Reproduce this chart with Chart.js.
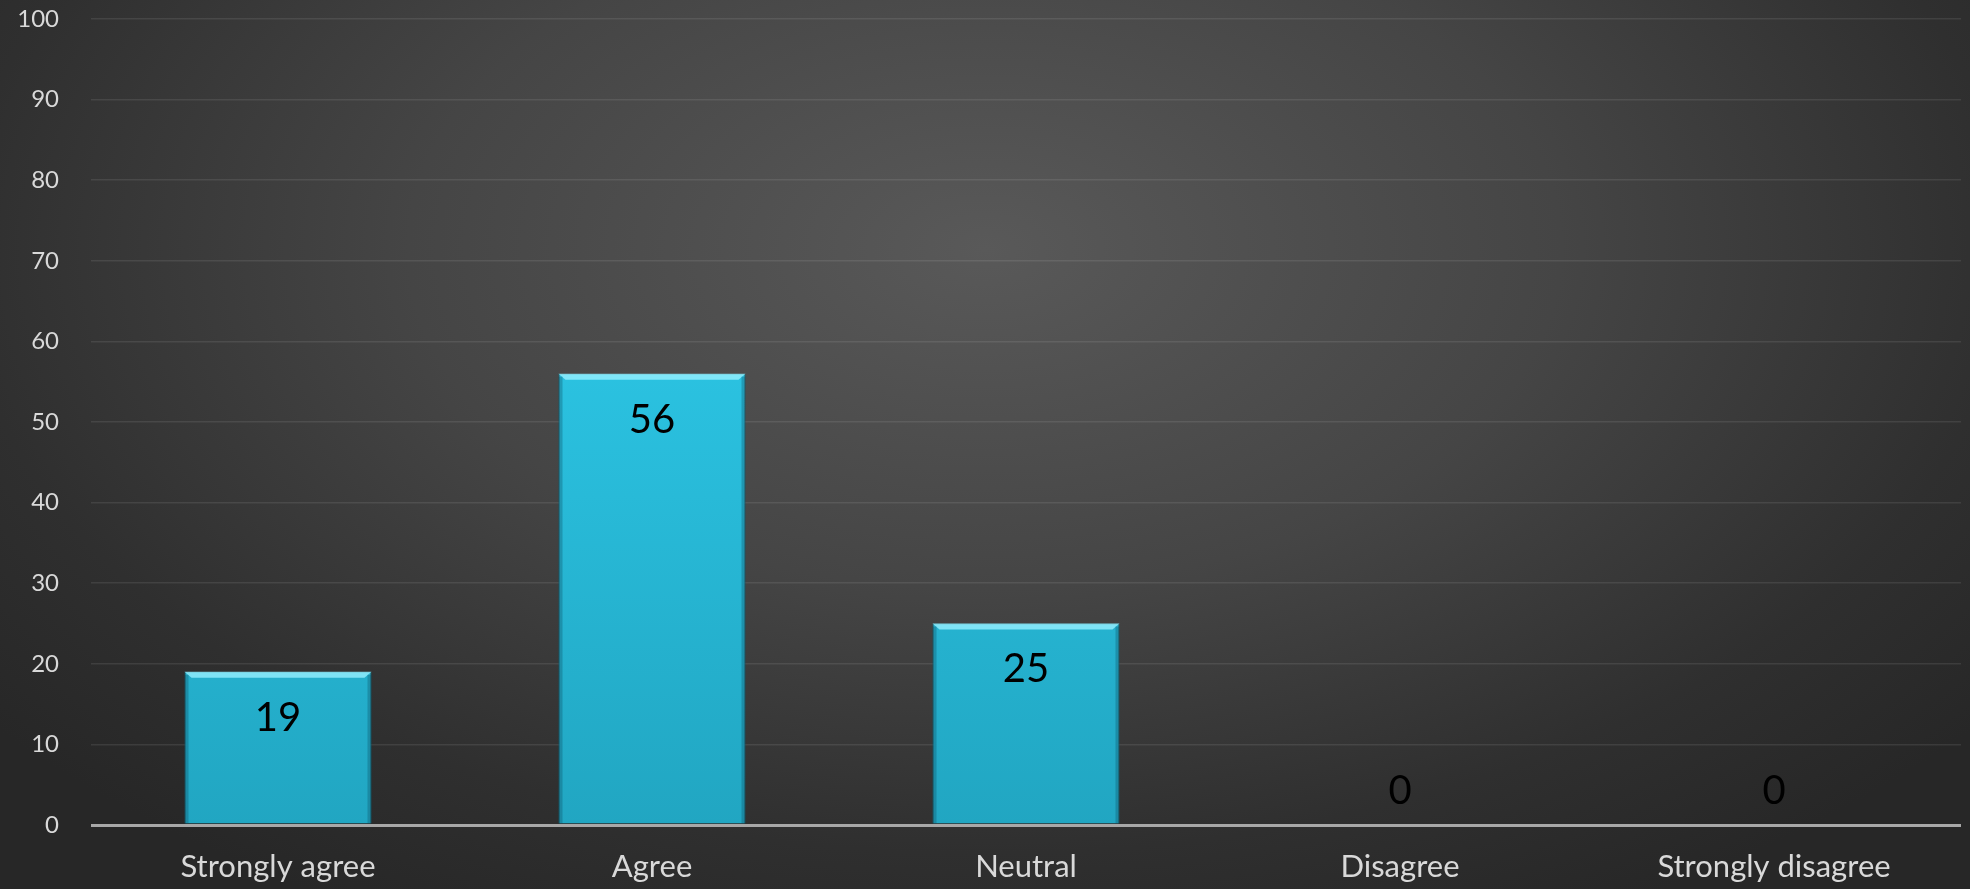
<!DOCTYPE html>
<html>
<head>
<meta charset="utf-8">
<script src="https://cdn.jsdelivr.net/npm/chart.js@4"></script>
<style>
  html, body { margin: 0; padding: 0; }
  body {
    width: 1970px; height: 889px; overflow: hidden;
    background: radial-gradient(ellipse 65% 85% at 50% 28%, #595959 0%, #454545 45%, #2f2f2f 80%, #272727 100%);
  }
  #wrap { width: 1970px; height: 889px; }
</style>
</head>
<body>
<div id="wrap"><canvas id="c" width="1970" height="889"></canvas></div>
<script>
const categories = ['Strongly agree', 'Agree', 'Neutral', 'Disagree', 'Strongly disagree'];
const values = [19, 56, 25, 0, 0];
const yMin = 0;
const yMax = 100;
const yStep = 10;

const FONT = 'Lato, "Open Sans", sans-serif';

// gradient fill for each bar, top lighter -> bottom darker
function barFill(ctx) {
  const chart = ctx.chart;
  const area = chart.chartArea;
  if (!area) return '#2ac8e8';
  const el = ctx.element;
  const top = el && isFinite(el.y) ? el.y : area.top;
  const base = el && isFinite(el.base) ? el.base : area.bottom;
  if (Math.abs(base - top) < 1) return '#2ac8e8';
  const g = chart.ctx.createLinearGradient(0, top, 0, base);
  g.addColorStop(0, '#32d7f8');
  g.addColorStop(1, '#21a6c2');
  return g;
}

// bevel highlight + value labels drawn from the bar elements
const barExtras = {
  id: 'barExtras',
  afterDatasetsDraw(chart) {
    const ctx = chart.ctx;
    const meta = chart.getDatasetMeta(0);
    meta.data.forEach((bar, i) => {
      const v = values[i];
      const half = bar.width / 2;
      if (v > 0) {
        ctx.save();
        // top bevel
        ctx.fillStyle = 'rgba(150,240,255,0.8)';
        ctx.beginPath();
        ctx.moveTo(bar.x - half, bar.y);
        ctx.lineTo(bar.x + half, bar.y);
        ctx.lineTo(bar.x + half - 7, bar.y + 6);
        ctx.lineTo(bar.x - half + 7, bar.y + 6);
        ctx.closePath();
        ctx.fill();
        // side shading
        ctx.fillStyle = 'rgba(10,70,90,0.3)';
        ctx.fillRect(bar.x - half, bar.y + 3, 4, bar.base - bar.y - 3);
        ctx.fillRect(bar.x + half - 4, bar.y + 3, 4, bar.base - bar.y - 3);
        ctx.restore();
      }
      ctx.save();
      ctx.fillStyle = '#000000';
      ctx.font = '40px ' + FONT;
      ctx.textAlign = 'center';
      ctx.textBaseline = 'middle';
      const y = v > 0 ? bar.y + 46 : bar.y - 34;
      ctx.fillText(String(v), bar.x, y);
      ctx.restore();
    });
  }
};

new Chart(document.getElementById('c').getContext('2d'), {
  type: 'bar',
  data: {
    labels: categories,
    datasets: [{
      data: values,
      backgroundColor: barFill,
      borderColor: 'rgba(20,110,130,0.9)',
      borderWidth: 1,
      borderSkipped: 'bottom',
      categoryPercentage: 1.0,
      barPercentage: 0.5
    }]
  },
  options: {
    responsive: false,
    animation: false,
    layout: { padding: { top: 19, right: 9, left: 0, bottom: 0 } },
    plugins: {
      legend: { display: false },
      tooltip: { enabled: false }
    },
    scales: {
      x: {
        grid: { display: false },
        border: { display: false },
        ticks: {
          color: '#d9d9d9',
          font: { family: FONT, size: 31 },
          padding: 15,
          maxRotation: 0,
          autoSkip: false
        },
        afterFit(scale) { scale.height = 64; }
      },
      y: {
        min: yMin,
        max: yMax,
        border: { display: false },
        grid: {
          drawTicks: false,
          color: (c) => c.tick && c.tick.value === 0 ? '#a8a8a8' : 'rgba(255,255,255,0.09)',
          lineWidth: (c) => c.tick && c.tick.value === 0 ? 3 : 1.5
        },
        ticks: {
          stepSize: yStep,
          color: '#d9d9d9',
          font: { family: FONT, size: 24 },
          padding: 32
        },
        afterFit(scale) {
          scale.width = 91;
          scale.paddingTop = 0;
          scale.paddingBottom = 0;
        }
      }
    }
  },
  plugins: [barExtras]
});
</script>
</body>
</html>
